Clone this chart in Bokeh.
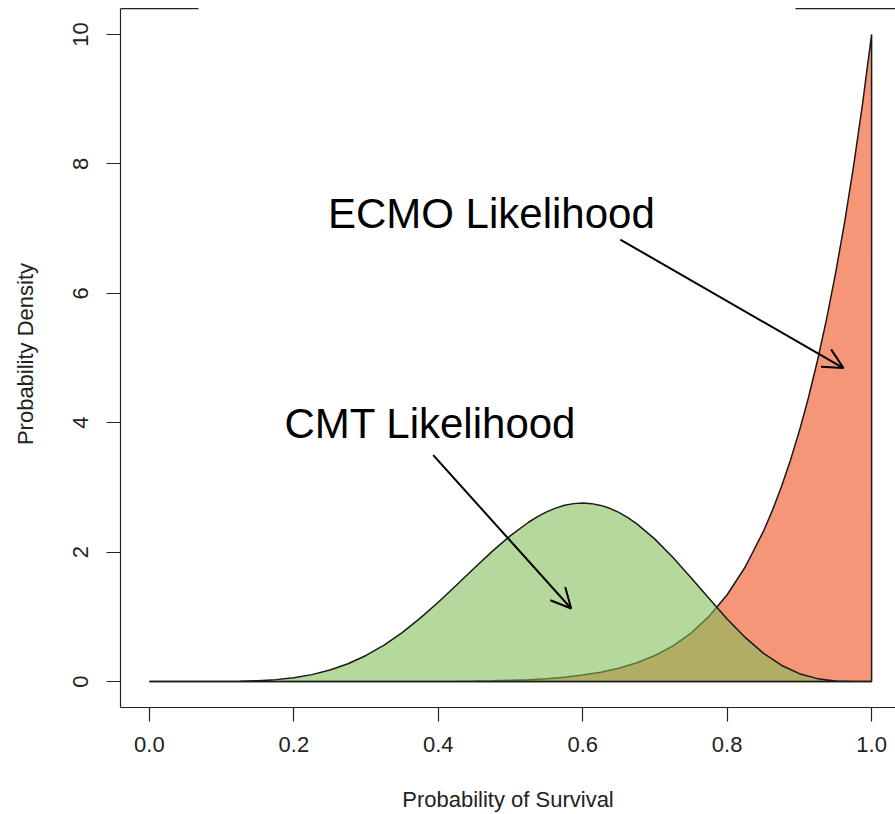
from bokeh.plotting import figure
from bokeh.models import (Range1d, FixedTicker, Arrow, OpenHead, Label,
                          NumeralTickFormatter)
from bokeh.embed import file_html
from bokeh.resources import INLINE

# ---- data ----
cmt_x = [0.0, 0.025, 0.05, 0.075, 0.1, 0.125, 0.15, 0.175, 0.2, 0.225, 0.25, 0.275,
         0.3, 0.325, 0.35, 0.375, 0.4, 0.425, 0.45, 0.475, 0.5, 0.525, 0.5375, 0.55,
         0.5625, 0.575, 0.5875, 0.6, 0.6125, 0.625, 0.6375, 0.65, 0.6625, 0.675, 0.7,
         0.725, 0.75, 0.775, 0.8, 0.825, 0.85, 0.875, 0.9, 0.925, 0.95, 0.975, 1.0]
cmt_density = [0.0, 0.0, 0.0, 0.0003, 0.0015, 0.0052, 0.0137, 0.0307, 0.0606, 0.1081,
               0.1784, 0.2760, 0.4043, 0.5651, 0.7580, 0.9802, 1.2262, 1.4880, 1.7553,
               2.0156, 2.2559, 2.4624, 2.5488, 2.6221, 2.6807, 2.7238, 2.7501, 2.7590,
               2.7500, 2.7228, 2.6775, 2.6143, 2.5342, 2.4377, 2.2014, 1.9185, 1.6060,
               1.2828, 0.9689, 0.6831, 0.4411, 0.2531, 0.1228, 0.0458, 0.0106, 0.0008,
               0.0]
ecmo_x = [0.0, 0.025, 0.05, 0.075, 0.1, 0.125, 0.15, 0.175, 0.2, 0.225, 0.25, 0.275,
          0.3, 0.325, 0.35, 0.375, 0.4, 0.425, 0.45, 0.475, 0.5, 0.525, 0.55, 0.575,
          0.6, 0.625, 0.65, 0.675, 0.7, 0.725, 0.75, 0.775, 0.8, 0.825, 0.85, 0.8625,
          0.875, 0.8875, 0.9, 0.9125, 0.925, 0.9375, 0.95, 0.9625, 0.975, 0.9875, 1.0]
ecmo_density = [0.0, 0.0, 0.0, 0.0, 0.0, 0.0, 0.0, 0.0, 0.0, 0.0, 0.0, 0.0001, 0.0002,
                0.0004, 0.0008, 0.0015, 0.0026, 0.0045, 0.0076, 0.0123, 0.0195, 0.0303,
                0.0461, 0.0687, 0.1008, 0.1455, 0.2071, 0.2909, 0.4035, 0.5534, 0.7508,
                1.0086, 1.3422, 1.7705, 2.3162, 2.6413, 3.0066, 3.4158, 3.8742, 4.3862,
                4.9576, 5.5941, 6.3025, 7.0894, 7.9624, 8.9297, 10.0]
x_ticks = [0.0, 0.2, 0.4, 0.6, 0.8, 1.0]
x_tick_labels = ["0.0", "0.2", "0.4", "0.6", "0.8", "1.0"]
y_ticks = [0, 2, 4, 6, 8, 10]
y_tick_labels = ["0", "2", "4", "6", "8", "10"]

FONT = "Liberation Sans"
INK = "#222222"

# plot box (R style, 4% padding)
X_LO, X_HI = -0.04, 1.04
Y_LO, Y_HI = -0.4, 10.4
# the top border is interrupted by a white title box
GAP_LO, GAP_HI = 0.068, 0.8946

p = figure(width=895, height=814,
           x_range=Range1d(X_LO, 1.0331), y_range=Range1d(Y_LO, 10.524),
           output_backend="svg", toolbar_location=None,
           min_border_left=120, min_border_right=0, min_border_top=0, min_border_bottom=107)
p.grid.visible = False
p.outline_line_color = None
p.background_fill_color = "white"
p.border_fill_color = "white"

# polygons (closed down to the baseline at the last x)
ex = ecmo_x + [ecmo_x[-1]]
ey = ecmo_density + [0.0]
cx = cmt_x + [cmt_x[-1]]
cy = cmt_density + [0.0]
p.patch(ex, ey, fill_color="#F59678", line_color="#1a1a1a", line_width=1.5)
p.patch(cx, cy, fill_color="#7FBE56", fill_alpha=0.58, line_color="#1a1a1a", line_width=1.5)

# top border pieces
p.segment(x0=[X_LO, GAP_HI], y0=[Y_HI, Y_HI], x1=[GAP_LO, X_HI], y1=[Y_HI, Y_HI],
          line_color=INK, line_width=1.2)

# axes
for ax in (p.xaxis[0], p.yaxis[0]):
    ax.axis_line_color = INK
    ax.axis_line_width = 1.2
    ax.major_tick_line_color = INK
    ax.major_tick_line_width = 1.2
    ax.major_tick_out = 14
    ax.major_tick_in = 0
    ax.minor_tick_line_color = None
    ax.major_label_text_font = FONT
    ax.major_label_text_font_size = "22px"
    ax.major_label_text_color = INK
    ax.axis_label_text_font = FONT
    ax.axis_label_text_font_size = "22px"
    ax.axis_label_text_font_style = "normal"
    ax.axis_label_text_color = INK

p.xaxis.ticker = FixedTicker(ticks=x_ticks)
p.xaxis.formatter = NumeralTickFormatter(format="0.0")
p.xaxis.major_label_overrides = {t: l for t, l in zip(x_ticks, x_tick_labels)}
p.xaxis.major_label_standoff = 15
p.xaxis.axis_label = "Probability of Survival"
p.xaxis.axis_label_standoff = 32

p.yaxis.ticker = FixedTicker(ticks=y_ticks)
p.yaxis.bounds = (Y_LO, Y_HI)
p.yaxis.major_label_overrides = {t: l for t, l in zip(y_ticks, y_tick_labels)}
p.yaxis.major_label_orientation = "vertical"
p.yaxis.major_label_standoff = 18
p.yaxis.axis_label = "Probability Density"
p.yaxis.axis_label_standoff = 33

# annotations
p.add_layout(Label(x=0.4735, y=7.23, text="ECMO Likelihood", text_align="center",
                   text_baseline="alphabetic", text_font=FONT, text_font_size="42px",
                   text_color="black"))
p.add_layout(Label(x=0.389, y=3.99, text="CMT Likelihood", text_align="center",
                   text_baseline="alphabetic", text_font=FONT, text_font_size="42px",
                   text_color="black"))
p.add_layout(Arrow(end=OpenHead(size=20, line_width=2, line_color="black"),
                   x_start=0.652, y_start=6.83, x_end=0.961, y_end=4.845,
                   line_width=2, line_color="black"))
p.add_layout(Arrow(end=OpenHead(size=20, line_width=2, line_color="black"),
                   x_start=0.393, y_start=3.50, x_end=0.584, y_end=1.13,
                   line_width=2, line_color="black"))

open("out.html", "w").write(file_html(p, INLINE))
